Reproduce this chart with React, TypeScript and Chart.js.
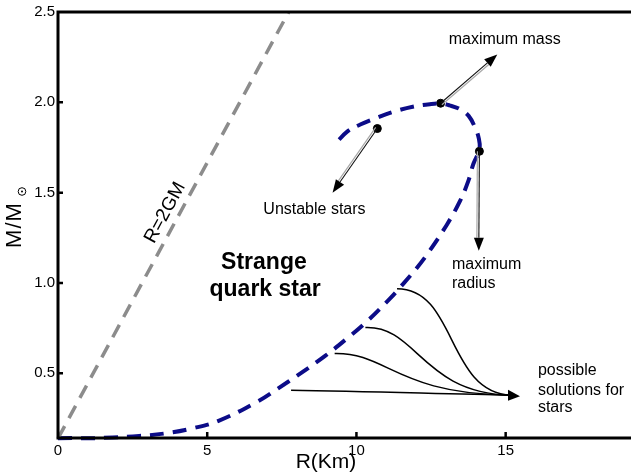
import { useEffect, useRef } from "react";
import { Chart, registerables } from "chart.js";

Chart.register(...registerables);

// Mass–radius sequence of a strange quark star (R in km, M in solar masses)
const radiusKm = [
  0, 1.06, 1.83, 2.72, 3.62, 4.49, 5.38, 6.71, 7.38, 8.04, 8.94, 9.7, 10.37, 11.13,
  11.46, 12.03, 12.46, 13.02, 13.46, 13.75, 13.92, 14.12, 14.1, 13.97, 13.76, 13.47,
  13.12, 12.82, 12.46, 11.93, 11.26, 10.7, 10.13, 9.7, 9.27,
];
const massSolar = [
  0.14, 0.14, 0.145, 0.153, 0.168, 0.195, 0.237, 0.346, 0.417, 0.49, 0.595, 0.695, 0.79,
  0.915, 0.975, 1.085, 1.18, 1.32, 1.45, 1.565, 1.66, 1.74, 1.8, 1.862, 1.925, 1.962,
  1.983, 1.993, 1.99, 1.977, 1.949, 1.916, 1.877, 1.839, 1.767,
];

// Schwarzschild limit R = 2GM
const limitR = [0, 7.73];
const limitM = [0.14, 2.5];

// Marked configurations: maximum mass, unstable branch, maximum radius
const markerR = [12.82, 10.7, 14.12];
const markerM = [1.995, 1.855, 1.729];

const xTicks = [0, 5, 10, 15];
const yTicks = [0.5, 1.0, 1.5, 2.0, 2.5];

const X_MIN = 0;
const X_MAX = 19.2;
const Y_MIN = 0.142;
const Y_MAX = 2.5;

const FONT = "'Liberation Sans', Arial, sans-serif";

type Pt = [number, number];

function drawArrow(ctx: CanvasRenderingContext2D, x0: number, y0: number, x1: number, y1: number) {
  const ang = Math.atan2(y1 - y0, x1 - x0);
  const headLen = 13;
  const headW = 5;
  const bx = x1 - Math.cos(ang) * headLen;
  const by = y1 - Math.sin(ang) * headLen;
  const nx = -Math.sin(ang);
  const ny = Math.cos(ang);
  ctx.save();
  ctx.lineCap = "butt";
  // light shadow line beside the shaft
  ctx.strokeStyle = "#a8a8a8";
  ctx.lineWidth = 1.2;
  ctx.beginPath();
  ctx.moveTo(x0 + nx * 2, y0 + ny * 2);
  ctx.lineTo(bx + nx * 2, by + ny * 2);
  ctx.stroke();
  ctx.strokeStyle = "#111";
  ctx.lineWidth = 1.1;
  ctx.beginPath();
  ctx.moveTo(x0, y0);
  ctx.lineTo(bx, by);
  ctx.stroke();
  ctx.fillStyle = "#000";
  ctx.beginPath();
  ctx.moveTo(x1, y1);
  ctx.lineTo(bx + nx * headW, by + ny * headW);
  ctx.lineTo(bx - nx * headW, by - ny * headW);
  ctx.closePath();
  ctx.fill();
  ctx.restore();
}

const overlayPlugin = {
  id: "starOverlay",
  afterDraw(chart: Chart) {
    const ctx = chart.ctx;
    const xs = chart.scales.x;
    const ys = chart.scales.y;
    const { left, right, top, bottom } = chart.chartArea;
    const px = (v: number) => xs.getPixelForValue(v);
    const py = (v: number) => ys.getPixelForValue(v);
    const P = (p: Pt): Pt => [px(p[0]), py(p[1])];

    ctx.save();

    // frame: top, left and bottom edges
    ctx.strokeStyle = "#000";
    ctx.lineWidth = 3;
    ctx.lineJoin = "miter";
    ctx.beginPath();
    ctx.moveTo(right, top);
    ctx.lineTo(left, top);
    ctx.lineTo(left, bottom);
    ctx.lineTo(right, bottom);
    ctx.stroke();

    // inward tick marks
    ctx.lineWidth = 2.5;
    ctx.beginPath();
    xTicks.forEach((v) => {
      if (v === X_MIN) return;
      const x = px(v);
      ctx.moveTo(x, bottom);
      ctx.lineTo(x, bottom - 6);
    });
    yTicks.forEach((v) => {
      if (v === Y_MAX) return;
      const y = py(v);
      ctx.moveTo(left, y);
      ctx.lineTo(left + 5, y);
    });
    ctx.stroke();

    // axis titles
    ctx.fillStyle = "#000";
    ctx.font = `21px ${FONT}`;
    ctx.textAlign = "center";
    ctx.textBaseline = "alphabetic";
    ctx.fillText("R(Km)", 326, 468);

    ctx.save();
    ctx.translate(21, 225);
    ctx.rotate(-Math.PI / 2);
    ctx.font = `22px ${FONT}`;
    (ctx as any).letterSpacing = "1px";
    ctx.fillText("M/M", 0, 0);
    ctx.restore();
    // solar symbol as subscript
    ctx.strokeStyle = "#000";
    ctx.lineWidth = 1;
    ctx.beginPath();
    ctx.arc(22, 191.5, 3.8, 0, Math.PI * 2);
    ctx.stroke();
    ctx.beginPath();
    ctx.arc(22, 191.5, 1, 0, Math.PI * 2);
    ctx.fill();

    // label along the R = 2GM line
    ctx.save();
    const [lx0, ly0] = P([limitR[0], limitM[0]]);
    const [lx1, ly1] = P([limitR[1], limitM[1]]);
    const lineAng = Math.atan2(ly1 - ly0, lx1 - lx0);
    ctx.translate(px(3.59), py(1.389));
    ctx.rotate(lineAng);
    ctx.font = `19px ${FONT}`;
    ctx.textAlign = "center";
    ctx.textBaseline = "middle";
    ctx.fillText("R=2GM", 0, 0);
    ctx.restore();

    // region label
    ctx.font = `bold 23px ${FONT}`;
    ctx.textAlign = "center";
    ctx.textBaseline = "alphabetic";
    ctx.fillText("Strange", px(6.9), py(1.078));
    ctx.fillText("quark star", px(6.94), py(0.93));

    // annotation texts
    ctx.font = `16px ${FONT}`;
    ctx.textAlign = "left";
    ctx.fillText("maximum mass", px(13.09), py(2.324));
    ctx.fillText("Unstable stars", px(6.88), py(1.382));
    ctx.fillText("maximum", px(13.2), py(1.078));
    ctx.fillText("radius", px(13.2), py(0.974));
    ctx.fillText("possible", px(16.08), py(0.489));
    ctx.fillText("solutions for", px(16.08), py(0.379));
    ctx.fillText("stars", px(16.08), py(0.285));

    // arrows from the marked configurations
    const [mmx, mmy] = P([markerR[0], markerM[0]]);
    const [t1x, t1y] = P([14.72, 2.265]);
    drawArrow(ctx, mmx, mmy, t1x, t1y);
    const [usx, usy] = P([markerR[1], markerM[1]]);
    const [t2x, t2y] = P([9.2, 1.5]);
    drawArrow(ctx, usx, usy, t2x, t2y);
    const [mrx, mry] = P([markerR[2], markerM[2]]);
    const [t3x, t3y] = P([14.1, 1.178]);
    drawArrow(ctx, mrx, mry, t3x, t3y);

    // converging curves towards the stable solutions
    const end: Pt = [15.18, 0.379];
    const flows: Pt[][] = [
      [[11.36, 0.968], [13.36, 0.968], [13.02, 0.395], end],
      [[10.3, 0.753], [12.03, 0.764], [12.19, 0.39], end],
      [[9.27, 0.61], [11.03, 0.616], [11.36, 0.384], end],
      [[7.81, 0.406], [10.5, 0.4], [13.0, 0.385], end],
    ];
    ctx.strokeStyle = "#000";
    ctx.lineWidth = 1.5;
    flows.forEach((f) => {
      const [a, b, c, d] = f.map(P);
      ctx.beginPath();
      ctx.moveTo(a[0], a[1]);
      ctx.bezierCurveTo(b[0], b[1], c[0], c[1], d[0], d[1]);
      ctx.stroke();
    });
    const [ex, ey] = P(end);
    const [tipx, tipy] = P([15.48, 0.373]);
    ctx.fillStyle = "#000";
    ctx.beginPath();
    ctx.moveTo(tipx, tipy);
    ctx.lineTo(ex - 3, ey - 5.5);
    ctx.lineTo(ex - 3, ey + 5.5);
    ctx.closePath();
    ctx.fill();

    ctx.restore();
  },
};

export default function App() {
  const canvasRef = useRef<HTMLCanvasElement | null>(null);

  useEffect(() => {
    document.body.style.margin = "0";
    const canvas = canvasRef.current;
    if (!canvas) return;

    const curve = radiusKm.map((r, i) => ({ x: r, y: massSolar[i] }));
    const limit = limitR.map((r, i) => ({ x: r, y: limitM[i] }));
    const markers = markerR.map((r, i) => ({ x: r, y: markerM[i] }));

    const chart = new Chart(canvas, {
      type: "scatter",
      data: {
        datasets: [
          {
            label: "R=2GM",
            data: limit,
            showLine: true,
            borderColor: "#8c8c8c",
            borderWidth: 3.5,
            borderDash: [14, 9],
            pointRadius: 0,
            clip: false,
          },
          {
            label: "Strange quark star",
            data: curve,
            showLine: true,
            borderColor: "#0c0c88",
            borderWidth: 4,
            borderDash: [14, 9],
            tension: 0.4,
            pointRadius: 0,
            clip: false,
          },
          {
            label: "markers",
            data: markers,
            showLine: false,
            pointRadius: 4,
            pointBackgroundColor: "#000",
            pointBorderColor: "#000",
            clip: false,
          },
        ],
      },
      options: {
        responsive: false,
        animation: false,
        devicePixelRatio: 1,
        events: [],
        layout: { padding: { top: 10, right: 0, left: 0, bottom: 0 } },
        plugins: {
          legend: { display: false },
          tooltip: { enabled: false },
          title: { display: false },
        },
        scales: {
          x: {
            type: "linear",
            min: X_MIN,
            max: X_MAX,
            grid: { display: false, drawTicks: false },
            border: { display: false },
            afterFit: (s: any) => {
              s.height = 37;
            },
            afterBuildTicks: (s: any) => {
              s.ticks = xTicks.map((v) => ({ value: v }));
            },
            ticks: {
              padding: 4,
              color: "#000",
              font: { family: FONT, size: 15 },
              maxRotation: 0,
              autoSkip: false,
              callback: (v: any) => String(v),
            },
          },
          y: {
            type: "linear",
            min: Y_MIN,
            max: Y_MAX,
            grid: { display: false, drawTicks: false },
            border: { display: false },
            afterFit: (s: any) => {
              s.width = 58;
            },
            afterBuildTicks: (s: any) => {
              s.ticks = yTicks.map((v) => ({ value: v }));
            },
            ticks: {
              padding: 3,
              color: "#000",
              font: { family: FONT, size: 15 },
              autoSkip: false,
              callback: (v: any) => Number(v).toFixed(1),
            },
          },
        },
      },
      plugins: [overlayPlugin],
    });

    return () => chart.destroy();
  }, []);

  return (
    <div style={{ width: 636, height: 475, overflow: "hidden", background: "#fff" }}>
      <canvas ref={canvasRef} width={636} height={475} />
    </div>
  );
}
